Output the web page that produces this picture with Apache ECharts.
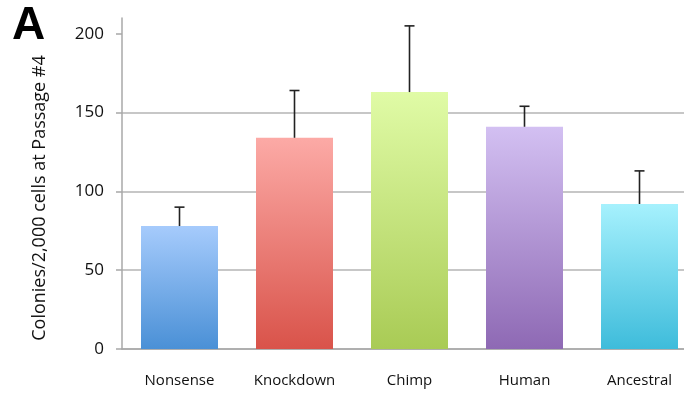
<!DOCTYPE html>
<html>
<head>
<meta charset="utf-8">
<script src="https://cdn.jsdelivr.net/npm/echarts@6/dist/echarts.min.js"></script>
<style>
  html, body { margin: 0; padding: 0; background: #fff; overflow: hidden; }
  /* the plot area runs a little past the right edge of the window */
  #chart { width: 700px; height: 393px; }
</style>
</head>
<body>
<div id="chart"></div>
<script>
// Colony counts per construct, with the upper error bar end
const categories = ['Nonsense', 'Knockdown', 'Chimp', 'Human', 'Ancestral'];
const colonies = [78, 134, 163, 141, 92];
const errorTop = [90, 164, 205, 154, 113];
const yTicks = [0, 50, 100, 150, 200];

// gradient colours, top -> bottom
const topColors = ['#a6cbfc', '#fcaaa6', '#e0fba6', '#d3c0f2', '#a6f1fd'];
const bottomColors = ['#4a90d6', '#d9534a', '#a9cb55', '#8e69b4', '#3ebcdb'];

const chart = echarts.init(document.getElementById('chart'));

const barData = colonies.map((v, i) => ({
  value: v,
  itemStyle: {
    color: new echarts.graphic.LinearGradient(0, 0, 0, 1, [
      { offset: 0, color: topColors[i] },
      { offset: 1, color: bottomColors[i] }
    ])
  }
}));

const errData = colonies.map((v, i) => [i, v, errorTop[i]]);

chart.setOption({
  animation: false,
  backgroundColor: '#fff',
  grid: { left: 122, top: 18, width: 575, height: 331 },
  graphic: [{
    type: 'text', left: 12, top: 3,
    style: { text: 'A', font: 'bold 46px "Liberation Sans", Arial, sans-serif', fill: '#000' }
  }, {
    type: 'text', x: 40, y: 198, rotation: Math.PI / 2,
    style: {
      text: 'Colonies/2,000 cells at Passage #4',
      font: '18px "Open Sans"', fill: '#111',
      align: 'center', verticalAlign: 'middle'
    }
  }],
  xAxis: {
    type: 'category',
    data: categories,
    axisLine: { lineStyle: { color: '#a8a8a8', width: 1.5 } },
    axisTick: { show: false },
    axisLabel: { color: '#111', fontFamily: 'Open Sans', fontSize: 15, margin: 24 }
  },
  yAxis: {
    type: 'value',
    min: 0, max: 210, interval: 50,
    axisLine: { show: true, lineStyle: { color: '#a8a8a8', width: 1.5 } },
    axisTick: { show: true, length: 6, customValues: yTicks, lineStyle: { color: '#a8a8a8', width: 1.5 } },
    axisLabel: { customValues: yTicks, color: '#111', fontFamily: 'Open Sans', fontSize: 17, margin: 18 },
    splitLine: { show: true, showMaxLine: false, lineStyle: { color: '#b4b4b4', width: 1.5 } }
  },
  series: [{
    type: 'bar',
    data: barData,
    barWidth: 77
  }, {
    type: 'custom',
    data: errData,
    renderItem: function (params, api) {
      const x = api.coord([api.value(0), 0])[0];
      const yLow = api.coord([0, api.value(1)])[1];
      const yHigh = api.coord([0, api.value(2)])[1];
      const style = { stroke: '#222', lineWidth: 1.6 };
      return {
        type: 'group',
        children: [
          { type: 'line', shape: { x1: x, y1: yLow, x2: x, y2: yHigh }, style: style },
          { type: 'line', shape: { x1: x - 5, y1: yHigh, x2: x + 5, y2: yHigh }, style: style }
        ]
      };
    },
    z: 5
  }]
});
</script>
</body>
</html>
